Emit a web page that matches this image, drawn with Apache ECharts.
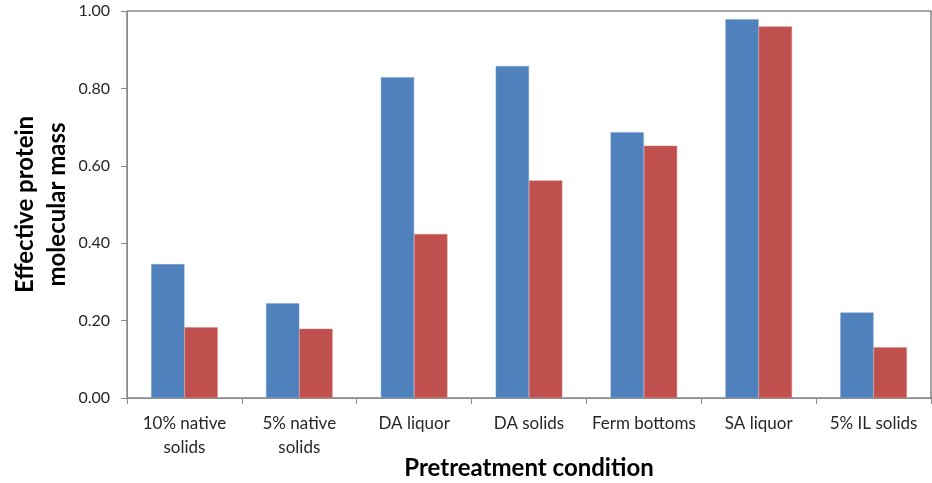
<!DOCTYPE html>
<html>
<head>
<meta charset="utf-8">
<script src="https://cdn.jsdelivr.net/npm/echarts@6/dist/echarts.min.js"></script>
<style>
  html, body { margin: 0; padding: 0; background: #fff; }
  #chart { width: 932px; height: 483px; }
</style>
</head>
<body>
<div id="chart"></div>
<script>
// Pretreatment conditions on the x axis
const categories = [
  '10% native\nsolids',
  '5% native\nsolids',
  'DA liquor',
  'DA solids',
  'Ferm bottoms',
  'SA liquor',
  '5% IL solids'
];

// Effective protein molecular mass, two series per condition
const seriesA = [0.346, 0.245, 0.829, 0.858, 0.687, 0.979, 0.221];
const seriesB = [0.183, 0.179, 0.424, 0.562, 0.652, 0.960, 0.131];

const yTicks = { min: 0, max: 1, interval: 0.2 };

const FONT = "Lato, 'Open Sans', sans-serif";

const chart = echarts.init(document.getElementById('chart'), null, { renderer: 'canvas' });

chart.setOption({
  animation: false,
  backgroundColor: '#ffffff',
  grid: {
    left: 127,
    right: 1,
    top: 11,
    bottom: 85,
    outerBoundsMode: 'none',
    containLabel: false,
    show: true,
    borderColor: '#4a4a4a',
    borderWidth: 1,
    backgroundColor: 'transparent'
  },
  xAxis: {
    type: 'category',
    data: categories,
    name: 'Pretreatment condition',
    nameLocation: 'middle',
    nameGap: 58,
    nameMoveOverlap: false,
    nameTextStyle: { fontFamily: FONT, fontSize: 24, fontWeight: 'bold', color: '#000' },
    axisLine: { lineStyle: { color: '#8c8c8c', width: 1 } },
    axisTick: { show: true, alignWithLabel: false, length: 6, lineStyle: { color: '#8c8c8c' } },
    axisLabel: {
      fontFamily: FONT, fontSize: 17, color: '#262626', margin: 14, lineHeight: 24, interval: 0
    }
  },
  yAxis: {
    type: 'value',
    min: yTicks.min,
    max: yTicks.max,
    interval: yTicks.interval,
    name: 'Effective protein\nmolecular mass',
    nameLocation: 'middle',
    nameGap: 54,
    nameMoveOverlap: false,
    nameTextStyle: { fontFamily: FONT, fontSize: 24, fontWeight: 'bold', color: '#000', lineHeight: 32 },
    axisLine: { show: true, lineStyle: { color: '#8c8c8c', width: 1 } },
    axisTick: { show: true, length: 6, lineStyle: { color: '#8c8c8c' } },
    splitLine: { show: false },
    axisLabel: {
      fontFamily: FONT, fontSize: 16, color: '#262626', margin: 17,
      formatter: v => v.toFixed(2)
    }
  },
  series: [
    {
      type: 'bar',
      data: seriesA,
      barWidth: '29%',
      barGap: '0%',
      itemStyle: { color: '#4F81BD', borderColor: '#7fa2cf', borderWidth: 0.5 }
    },
    {
      type: 'bar',
      data: seriesB,
      barWidth: '29%',
      barGap: '0%',
      itemStyle: { color: '#C0504D', borderColor: '#d58583', borderWidth: 0.5 }
    }
  ]
});
</script>
</body>
</html>
